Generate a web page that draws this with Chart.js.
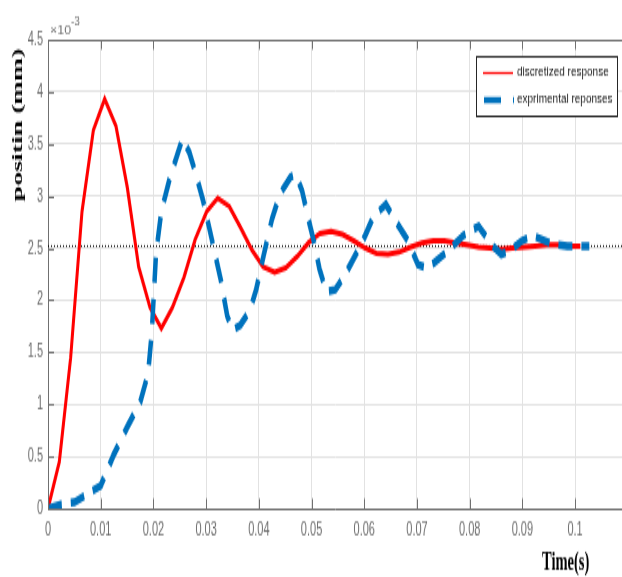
<!DOCTYPE html>
<html>
<head>
<meta charset="utf-8">
<script src="https://cdn.jsdelivr.net/npm/chart.js@4.4.0/dist/chart.umd.min.js"></script>
<style>
    html, body { margin: 0; padding: 0; background: #fff; overflow: hidden; }
    /* the source figure is stretched vertically: draw 622x320, show at 622x577 */
    #canvas { display: block; width: 622px; height: 577px; }
</style>
</head>
<body>
<canvas id="canvas" width="622" height="320" style="width:622px;height:577px"></canvas>
<script>
const Chart = window.Chart;

// discretized model response (x10^-3 mm)
const timeDisc = [0, 0.00215, 0.0043, 0.00645, 0.0086, 0.01075, 0.0129, 0.01505, 0.0172, 0.01935,
    0.0215, 0.0236, 0.0258, 0.0279, 0.0301, 0.0322, 0.0344, 0.0365, 0.0387, 0.0408,
    0.0430, 0.0451, 0.0473, 0.0494, 0.0516, 0.0537, 0.0559, 0.0580, 0.0602, 0.0623,
    0.0645, 0.0666, 0.0688, 0.0709, 0.0731, 0.0752, 0.0774, 0.0795, 0.0817, 0.0838,
    0.0860, 0.0881, 0.0903, 0.0924, 0.0946, 0.0967, 0.0989, 0.1010];
const posDisc = [0, 0.45, 1.45, 2.85, 3.63, 3.93, 3.67, 3.08, 2.32, 1.93,
    1.73, 1.93, 2.22, 2.58, 2.85, 2.98, 2.90, 2.70, 2.48, 2.32,
    2.27, 2.31, 2.42, 2.55, 2.64, 2.66, 2.63, 2.57, 2.50, 2.45,
    2.44, 2.46, 2.51, 2.55, 2.57, 2.57, 2.55, 2.53, 2.51, 2.50,
    2.49, 2.50, 2.51, 2.52, 2.53, 2.53, 2.52, 2.52];

// measured response
const timeExp = [0, 0.0025, 0.0050, 0.0075, 0.0100, 0.0125, 0.0150, 0.0175, 0.0190, 0.0197,
    0.0205, 0.0215, 0.0230, 0.0255, 0.0268, 0.0281, 0.0294, 0.0307, 0.0318, 0.0328,
    0.0340, 0.0350, 0.0365, 0.0383, 0.0395, 0.0410, 0.0425, 0.0440, 0.0460, 0.0470,
    0.0482, 0.0494, 0.0505, 0.0515, 0.0528, 0.0545, 0.0561, 0.0580, 0.0600, 0.0617,
    0.0641, 0.0657, 0.0683, 0.0702, 0.0718, 0.0733, 0.0760, 0.0788, 0.0817, 0.0842,
    0.0860, 0.0878, 0.0899, 0.0920, 0.0956, 0.0985, 0.1027];
const posExp = [0, 0.04, 0.06, 0.14, 0.22, 0.52, 0.78, 1.02, 1.30, 1.70,
    2.45, 2.85, 3.15, 3.55, 3.42, 3.20, 2.96, 2.67, 2.42, 2.19,
    1.85, 1.71, 1.76, 1.90, 2.10, 2.45, 2.78, 3.02, 3.18, 3.21,
    3.05, 2.78, 2.55, 2.30, 2.08, 2.10, 2.22, 2.40, 2.60, 2.80,
    2.92, 2.78, 2.57, 2.34, 2.31, 2.36, 2.48, 2.62, 2.71, 2.53,
    2.44, 2.48, 2.57, 2.62, 2.54, 2.52, 2.52];

const steadyState = 2.52;

const xTicks = [0, 0.01, 0.02, 0.03, 0.04, 0.05, 0.06, 0.07, 0.08, 0.09, 0.1];
const xTickLabels = ["0", "0.01", "0.02", "0.03", "0.04", "0.05", "0.06", "0.07", "0.08", "0.09", "0.1"];
const yTicks = [0, 0.5, 1, 1.5, 2, 2.5, 3, 3.5, 4, 4.5];
const yTickLabels = ["0", "0.5", "1", "1.5", "2", "2.5", "3", "3.5", "4", "4.5"];

const xMax = 0.1089;
const xTitle = "Time(s)";
const yTitle = "positin (mm)";

const toPoints = (xs, ys) => xs.map((x, i) => ({x, y: ys[i]}));

const AXIS = "#707070";

const frame = {
    id: "frame",
    afterDraw(chart) {
        const {ctx, chartArea: a, scales: {x, y}} = chart;
        ctx.save();

        // box top + inward ticks
        ctx.strokeStyle = AXIS;
        ctx.lineWidth = 1;
        ctx.beginPath();
        ctx.moveTo(a.left, a.top + 0.5);
        ctx.lineTo(a.right, a.top + 0.5);
        xTicks.forEach(v => {
            const px = Math.round(x.getPixelForValue(v)) + 0.5;
            ctx.moveTo(px, a.bottom);
            ctx.lineTo(px, a.bottom - 5.5);
            ctx.moveTo(px, a.top);
            ctx.lineTo(px, a.top + 5.5);
        });
        yTicks.forEach(v => {
            const py = Math.round(y.getPixelForValue(v)) + 0.5;
            ctx.moveTo(a.left, py);
            ctx.lineTo(a.left + 6, py);
        });
        ctx.stroke();

        // x10^-3
        ctx.fillStyle = AXIS;
        ctx.textBaseline = "alphabetic";
        ctx.save();
        ctx.translate(50, 18.5);
        ctx.scale(1, 0.62);
        ctx.font = '12.5px "Liberation Sans"';
        ctx.fillText("\u00d710", 0, 0);
        ctx.restore();
        ctx.save();
        ctx.translate(71, 13.9);
        ctx.scale(1, 0.78);
        ctx.font = '10px "Liberation Sans"';
        ctx.fillText("-3", 0, 0);
        ctx.restore();

        // axis titles
        ctx.fillStyle = "#000";
        ctx.save();
        ctx.translate(18, 69.3);
        ctx.rotate(-Math.PI / 2);
        ctx.font = 'bold 15.5px "Liberation Serif"';
        ctx.textAlign = "center";
        ctx.textBaseline = "middle";
        ctx.fillText(yTitle, 0, 0);
        ctx.restore();

        ctx.font = 'bold 14.5px "Liberation Serif"';
        ctx.textAlign = "left";
        ctx.fillText(xTitle, 542, 316);

        // legend
        const ds = chart.data.datasets;
        ctx.fillStyle = "#fff";
        ctx.fillRect(477, 32, 140, 32);
        ctx.strokeStyle = "#262626";
        ctx.strokeRect(476.5, 31.5, 141, 33);

        ctx.strokeStyle = ds[1].borderColor;
        ctx.lineWidth = 1.2;
        ctx.beginPath();
        ctx.moveTo(483, 40.5);
        ctx.lineTo(513, 40.5);
        ctx.stroke();

        ctx.strokeStyle = ds[0].borderColor;
        ctx.lineWidth = 3.3;
        ctx.setLineDash([17, 12]);
        ctx.beginPath();
        ctx.moveTo(484, 55.5);
        ctx.lineTo(514, 55.5);
        ctx.stroke();
        ctx.setLineDash([]);

        ctx.fillStyle = "#1a1a1a";
        ctx.font = '10px "Liberation Sans"';
        ctx.textBaseline = "middle";
        [[ds[1].label, 40.5], [ds[0].label, 55.5]].forEach(([txt, yy]) => {
            ctx.save();
            ctx.translate(517, yy);
            ctx.scale(1, 0.72);
            ctx.fillText(txt, 0, 0);
            ctx.restore();
        });

        ctx.restore();
    },
};

new Chart(document.getElementById("canvas"), {
    type: "scatter",
    data: {
        datasets: [
            {
                label: "exprimental reponses",
                type: "line",
                data: toPoints(timeExp, posExp),
                borderColor: "#0072bd",
                borderWidth: 4.5,
                borderDash: [14, 9],
                borderCapStyle: "butt",
                pointRadius: 0,
                order: 1,
            },
            {
                label: "discretized response",
                type: "line",
                data: toPoints(timeDisc, posDisc),
                borderColor: "#ff0000",
                borderWidth: 3,
                pointRadius: 0,
                order: 2,
            },
            {
                label: "steady",
                type: "line",
                data: [{x: 0, y: steadyState}, {x: xMax, y: steadyState}],
                borderColor: "#000",
                borderWidth: 1,
                borderDash: [1, 2],
                pointRadius: 0,
                order: 3,
            },
        ],
    },
    options: {
        responsive: false,
        animation: false,
        events: [],
        plugins: {
            legend: {display: false},
            tooltip: {enabled: false},
        },
        layout: {
            padding: {left: 0, right: 0, top: 22, bottom: 0},
        },
        scales: {
            x: {
                type: "linear",
                min: 0,
                max: xMax,
                afterFit: s => { s.height = 38; },
                afterBuildTicks: s => { s.ticks = xTicks.map(v => ({value: v})); },
                grid: {color: "#e2e2e2", drawTicks: false},
                border: {color: AXIS},
                ticks: {
                    padding: 5,
                    maxRotation: 0,
                    autoSkip: false,
                    color: "#6e6e6e",
                    font: {family: "Liberation Sans", size: 11},
                    callback: (v, i) => xTickLabels[i],
                },
            },
            y: {
                type: "linear",
                min: 0,
                max: 4.5,
                afterFit: s => { s.width = 48; },
                afterBuildTicks: s => { s.ticks = yTicks.map(v => ({value: v})); },
                grid: {color: "#e2e2e2", drawTicks: false},
                border: {color: AXIS},
                ticks: {
                    padding: 5,
                    color: "#6e6e6e",
                    font: {family: "Liberation Sans", size: 11},
                    callback: (v, i) => yTickLabels[i],
                },
            },
        },
    },
    plugins: [frame],
});
</script>
</body>
</html>
